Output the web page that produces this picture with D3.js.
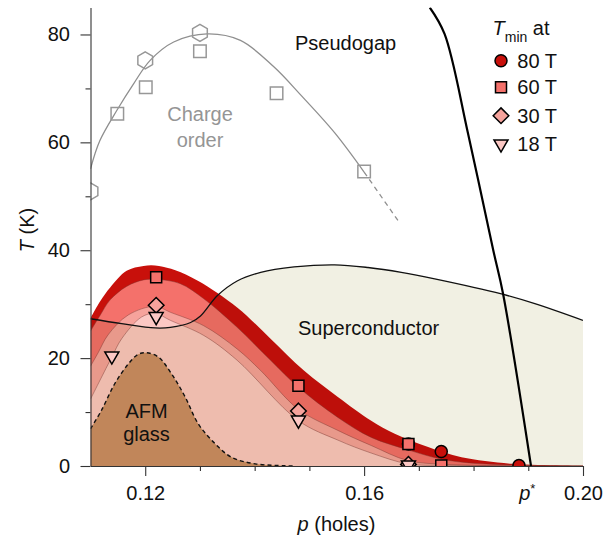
<!DOCTYPE html>
<html>
<head>
<meta charset="utf-8">
<script src="https://cdn.jsdelivr.net/npm/d3@7"></script>
<style>
  html, body { margin: 0; padding: 0; background: #fff; }
  svg { display: block; font-family: "Liberation Sans", Arial, Helvetica, sans-serif; }
</style>
</head>
<body>
<svg id="chart" width="604" height="542"></svg>
<script>
// ---- Phase-diagram data: doping p (holes) and temperature T (K) ----

// Tmin(p) boundaries for each field
const tmin80P = [0.110, 0.1118, 0.1136, 0.1166, 0.1197, 0.1225, 0.1255, 0.1297, 0.1368, 0.1429, 0.149, 0.1552, 0.1613, 0.1656, 0.1717, 0.1778, 0.187, 0.196, 0.200];
const tmin80T = [27.4, 30.6, 33.1, 36.2, 37.1, 37.1, 36.3, 34.3, 29.4, 23.6, 17.7, 12.8, 8.4, 6.0, 3.5, 1.6, 0.4, 0.1, 0.05];
const tmin60P = [0.110, 0.1118, 0.1136, 0.1166, 0.1197, 0.122, 0.1264, 0.1307, 0.1368, 0.1429, 0.148, 0.1552, 0.1613, 0.168, 0.174, 0.180, 0.190, 0.200];
const tmin60T = [25.0, 28.0, 30.8, 33.3, 34.5, 34.6, 33.8, 31.0, 25.7, 19.6, 14.6, 9.0, 5.3, 3.0, 1.3, 0.5, 0.1, 0.0];
const tmin30P = [0.110, 0.1114, 0.1132, 0.1169, 0.1218, 0.1246, 0.1307, 0.1368, 0.1411, 0.148, 0.1552, 0.1613, 0.168, 0.175, 0.185, 0.200];
const tmin30T = [18.5, 21.0, 24.3, 28.0, 29.6, 28.5, 26.0, 21.7, 17.7, 10.5, 6.6, 3.8, 1.0, 0.3, 0.05, 0.0];
const tmin18P = [0.110, 0.1139, 0.1157, 0.1193, 0.1218, 0.1246, 0.1307, 0.1368, 0.148, 0.1552, 0.1613, 0.168, 0.175, 0.200];
const tmin18T = [12.4, 20.2, 23.6, 27.6, 28.3, 27.0, 24.2, 19.6, 8.4, 4.8, 2.4, 0.4, 0.1, 0.0];

// Measured Tmin points
const pts80P = [0.1681, 0.1741, 0.1883];
const pts80T = [4.1, 2.7, 0.1];
const pts60P = [0.1220, 0.1480, 0.1681, 0.1741];
const pts60T = [35.0, 14.9, 4.1, 0.1];
const pts30P = [0.1220, 0.1480, 0.1681];
const pts30T = [29.8, 10.2, 0.3];
const pts18P = [0.1139, 0.1220, 0.1480, 0.1681];
const pts18T = [20.4, 27.7, 8.5, 0.2];

// Superconducting dome Tc(p)
const scP = [0.110, 0.1157, 0.1218, 0.1246, 0.1283, 0.1301, 0.1332, 0.1368, 0.1411, 0.1472, 0.1546, 0.1607, 0.1668, 0.1729, 0.1851, 0.1912, 0.200];
const scT = [27.3, 26.4, 25.6, 25.7, 26.6, 27.8, 31.6, 34.3, 35.9, 36.9, 37.3, 36.8, 35.9, 34.7, 31.9, 30.1, 27.0];

// AFM glass boundary
const afmP = [0.110, 0.112, 0.1144, 0.1169, 0.1187, 0.1202, 0.1224, 0.1248, 0.1273, 0.1297, 0.1328, 0.1358, 0.1401, 0.1456, 0.147];
const afmT = [6.9, 10.3, 15.2, 18.9, 20.7, 21.0, 20.2, 17.1, 12.8, 7.8, 4.1, 1.6, 0.4, 0.05, 0.0];

// Charge order: guide curve (solid part, then dashed extension) and points
const coLineP = [0.110, 0.1117, 0.1148, 0.1179, 0.1209, 0.1252, 0.1313, 0.1374, 0.1435, 0.1484, 0.1546, 0.160];
const coLineT = [55.1, 60.3, 65.9, 70.9, 75.2, 78.6, 80.1, 78.9, 74.0, 68.8, 61.8, 54.5];
const coDashP = [0.160, 0.1662];
const coDashT = [54.5, 45.5];
const coSquareP = [0.1149, 0.1201, 0.1300, 0.1440, 0.1600];
const coSquareT = [65.3, 70.2, 76.9, 69.1, 54.6];
const coHexP = [0.1100, 0.1200, 0.1300];
const coHexT = [50.9, 75.2, 80.3];

// Pseudogap boundary T*(p)
const pgP = [0.172, 0.1747, 0.179, 0.1836, 0.1854, 0.1905];
const pgT = [85.0, 80.1, 61.6, 40.0, 31.9, 0.0];

// Axis ticks and labels
const yMajorTicks = [0, 20, 40, 60, 80];
const yMinorTicks = [10, 30, 50, 70];
const xMajorTicks = [0.12, 0.16, 0.20];
const xMinorTicks = [0.13, 0.14, 0.15, 0.17, 0.18, 0.19];
const pStar = 0.19;
const legendLabels = ["80 T", "60 T", "30 T", "18 T"];

// ---- Drawing ----
const zip = (ps, ts) => ps.map((p, i) => [p, ts[i]]);

const svg = d3.select("#chart");
const x = d3.scaleLinear().domain([0.11, 0.20]).range([90.5, 583]);
const y = d3.scaleLinear().domain([0, 85]).range([466, 7.5]);

const colors = {
  f80: "#c8100b",
  f60: "#f4716b",
  f30: "#f6a39c",
  f18: "#fcc8c4",
  sc: "#f1f0e3",
  afm: "#c1865a",
  co: "#8f8f8f"
};

svg.append("defs").append("clipPath").attr("id", "plotClip")
  .append("rect")
  .attr("x", x(0.11)).attr("y", y(85))
  .attr("width", x(0.20) - x(0.11)).attr("height", y(0) - y(85));

const curve = d3.curveCatmullRom.alpha(0.5);
const area = d3.area().x(d => x(d[0])).y0(y(0)).y1(d => y(d[1])).curve(curve);
const line = d3.line().x(d => x(d[0])).y(d => y(d[1])).curve(curve);

const plot = svg.append("g").attr("clip-path", "url(#plotClip)");

// Tmin regions, outermost (80 T) first
const layers = [
  { data: zip(tmin80P, tmin80T), fill: colors.f80 },
  { data: zip(tmin60P, tmin60T), fill: colors.f60 },
  { data: zip(tmin30P, tmin30T), fill: colors.f30 },
  { data: zip(tmin18P, tmin18T), fill: colors.f18 }
];
layers.forEach(l => {
  plot.append("path").attr("d", area(l.data)).attr("fill", l.fill);
});
layers.slice(1).forEach(l => {
  plot.append("path").attr("d", line(l.data))
    .attr("fill", "none").attr("stroke", "#7a3530")
    .attr("stroke-opacity", 0.55).attr("stroke-width", 0.8);
});

// Superconducting dome, tinted over the Tmin regions
plot.append("path").attr("d", area(zip(scP, scT)))
  .attr("fill", colors.sc).style("mix-blend-mode", "multiply");

// AFM glass
plot.append("path").attr("d", area(zip(afmP, afmT))).attr("fill", colors.afm);
plot.append("path").attr("d", line(zip(afmP, afmT)))
  .attr("fill", "none").attr("stroke", "#111").attr("stroke-width", 1.4)
  .attr("stroke-dasharray", "4,3");

// Tc line
plot.append("path").attr("d", line(zip(scP, scT)))
  .attr("fill", "none").attr("stroke", "#111").attr("stroke-width", 1.3);

// Charge order curve
plot.append("path").attr("d", line(zip(coLineP, coLineT)))
  .attr("fill", "none").attr("stroke", colors.co).attr("stroke-width", 1.3);
plot.append("path").attr("d", d3.line().x(d => x(d[0])).y(d => y(d[1]))(zip(coDashP, coDashT)))
  .attr("fill", "none").attr("stroke", colors.co).attr("stroke-width", 1.3)
  .attr("stroke-dasharray", "5,4");

// Pseudogap line
plot.append("path").attr("d", line(zip(pgP, pgT)))
  .attr("fill", "none").attr("stroke", "#000").attr("stroke-width", 2.2);

// ---- Markers ----
const hexPath = r => {
  const pts = d3.range(6).map(k => {
    const a = (-90 + k * 60) * Math.PI / 180;
    return [r * Math.cos(a), r * Math.sin(a)];
  });
  return "M" + pts.map(p => p.join(",")).join("L") + "Z";
};
const triDown = s => {
  const h = s * Math.sqrt(3) / 2;
  return `M${-s / 2},${-h / 3}L${s / 2},${-h / 3}L0,${2 * h / 3}Z`;
};
const diamond = r => `M0,${-r}L${r},0L0,${r}L${-r},0Z`;
const square = s => `M${-s / 2},${-s / 2}h${s}v${s}h${-s}Z`;
const circle = r => `M${r},0A${r},${r} 0 1,1 ${-r},0A${r},${r} 0 1,1 ${r},0Z`;

const markerSets = [
  { P: pts80P, T: pts80T, path: circle(6), fill: colors.f80 },
  { P: pts60P, T: pts60T, path: square(11), fill: colors.f60 },
  { P: pts30P, T: pts30T, path: diamond(7.8), fill: colors.f30 },
  { P: pts18P, T: pts18T, path: triDown(14), fill: colors.f18 }
];

const marks = svg.append("g").attr("clip-path", "url(#plotClip)");

// charge-order points
marks.selectAll("path.coSq").data(zip(coSquareP, coSquareT)).join("path")
  .attr("class", "coSq")
  .attr("d", square(12.5))
  .attr("transform", d => `translate(${x(d[0])},${y(d[1])})`)
  .attr("fill", "none").attr("stroke", "#979797").attr("stroke-width", 1.5);
marks.selectAll("path.coHex").data(zip(coHexP, coHexT)).join("path")
  .attr("class", "coHex")
  .attr("d", hexPath(8.5))
  .attr("transform", d => `translate(${x(d[0])},${y(d[1])})`)
  .attr("fill", "none").attr("stroke", "#979797").attr("stroke-width", 1.5);

markerSets.forEach((m, i) => {
  marks.selectAll("path.tm" + i).data(zip(m.P, m.T)).join("path")
    .attr("class", "tm" + i)
    .attr("d", m.path)
    .attr("transform", d => `translate(${x(d[0])},${y(d[1])})`)
    .attr("fill", m.fill).attr("stroke", "#000").attr("stroke-width", 1.5);
});

// ---- Axes ----
const axisColor = "#333";
const fontSize = 20;

const yAxis = svg.append("g").attr("transform", `translate(${x(0.11)},0)`);
yAxis.call(d3.axisLeft(y).tickValues(yMajorTicks).tickSize(10).tickSizeOuter(0).tickPadding(10.5));
yAxis.append("g").call(d3.axisLeft(y).tickValues(yMinorTicks).tickSize(5).tickSizeOuter(0).tickFormat(""))
  .select(".domain").remove();

const xAxis = svg.append("g").attr("transform", `translate(0,${y(0)})`);
xAxis.call(d3.axisBottom(x).tickValues(xMajorTicks).tickSize(10).tickSizeOuter(0).tickPadding(9.5)
  .tickFormat(d3.format(".2f")));
xAxis.append("g").call(d3.axisBottom(x).tickValues(xMinorTicks).tickSize(5).tickSizeOuter(0).tickFormat(""))
  .select(".domain").remove();

svg.selectAll(".domain, .tick line").attr("stroke", axisColor).attr("stroke-width", 1.1);
svg.selectAll(".tick text")
  .attr("font-size", fontSize)
  .attr("font-family", "'Liberation Sans', Arial, sans-serif")
  .attr("fill", "#111");

// p* label under its tick
const pStarText = svg.append("text")
  .attr("x", x(pStar) - 1).attr("y", 500)
  .attr("text-anchor", "middle").attr("font-size", fontSize).attr("fill", "#111");
pStarText.append("tspan").attr("font-style", "italic").text("p");
pStarText.append("tspan").attr("font-size", 13).attr("dy", -7).text("*");

// axis titles
const xTitle = svg.append("text")
  .attr("x", 336.5).attr("y", 531)
  .attr("text-anchor", "middle").attr("font-size", fontSize).attr("fill", "#111");
xTitle.append("tspan").attr("font-style", "italic").text("p");
xTitle.append("tspan").text(" (holes)");

const yTitle = svg.append("text")
  .attr("transform", "translate(33.5,230) rotate(-90)")
  .attr("text-anchor", "middle").attr("font-size", fontSize).attr("fill", "#111");
yTitle.append("tspan").attr("font-style", "italic").text("T");
yTitle.append("tspan").text(" (K)");

// ---- Region labels ----
const label = (txt, xx, yy, opts = {}) =>
  svg.append("text").attr("x", xx).attr("y", yy)
    .attr("text-anchor", opts.anchor || "start")
    .attr("font-size", opts.size || fontSize)
    .attr("fill", opts.fill || "#111")
    .text(txt);

label("Pseudogap", 295, 50);
label("Charge", 200, 121, { anchor: "middle", fill: "#959595" });
label("order", 200, 147, { anchor: "middle", fill: "#959595" });
label("Superconductor", 298, 335);
label("AFM", 146.5, 418, { anchor: "middle" });
label("glass", 146.5, 441, { anchor: "middle" });

// ---- Legend ----
const legTitle = svg.append("text").attr("x", 492.5).attr("y", 35)
  .attr("font-size", fontSize).attr("fill", "#111");
legTitle.append("tspan").attr("font-style", "italic").text("T");
legTitle.append("tspan").attr("font-size", 14).attr("dy", 6.5).text("min");
legTitle.append("tspan").attr("dy", -6.5).text(" at");

const legendY = [60.7, 87.3, 115.7, 144];
const legend = svg.append("g");
markerSets.forEach((m, i) => {
  legend.append("path").attr("d", m.path)
    .attr("transform", `translate(501,${legendY[i]})`)
    .attr("fill", m.fill).attr("stroke", "#000").attr("stroke-width", 1.5);
  legend.append("text").attr("x", 517.3).attr("y", legendY[i] + 7)
    .attr("font-size", fontSize).attr("fill", "#111").text(legendLabels[i]);
});
</script>
</body>
</html>
